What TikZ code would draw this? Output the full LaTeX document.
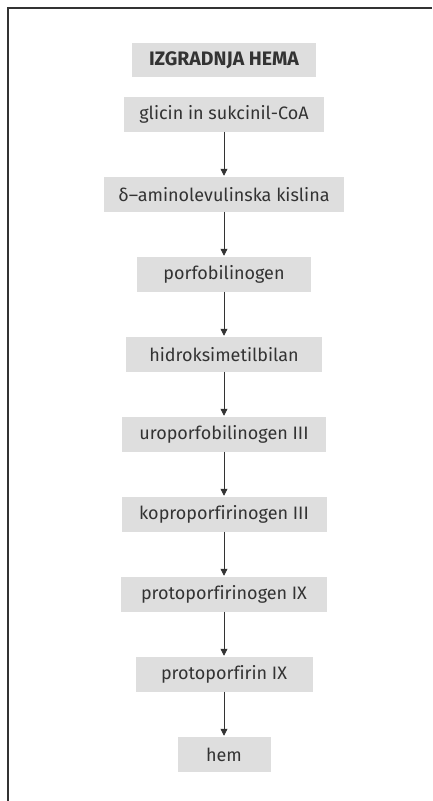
\documentclass[tikz,border=0pt]{standalone}
\usepackage{fontspec}
\setmainfont[Ligatures=CommonOff]{Fira Sans}
\usetikzlibrary{positioning}
\usetikzlibrary{arrows.meta}
\definecolor{boxgray}{HTML}{DEDEDE}
\definecolor{inkgray}{HTML}{333333}

\begin{document}
\begin{tikzpicture}[x=1pt,y=1pt]
\tikzset{
step box/.style = {rectangle,fill=boxgray,
                   text=inkgray,
                   font=\fontsize{18}{20}\selectfont,
                   minimum height=34.5pt,
                   inner xsep=10pt,
                   outer sep=0pt},
title box/.style = {step box,
                    font=\fontsize{19.5}{20}\selectfont\bfseries},
flow/.style = {draw=inkgray,line width=0.8pt,
               -{Triangle[length=7pt,width=7pt]},
               shorten >=1.5pt},
node distance=45.5pt
}

\useasboundingbox (0,0) rectangle (432,-801);
\draw[inkgray,line width=1.2pt] (8,-801) -- (8,-8) -- (432,-8);

\node[title box, minimum width=184pt] at (224,-60) (title) {IZGRADNJA HEMA};
\node[step box, minimum width=200pt, below=20pt of title] (glicin) {glicin in sukcinil-CoA};
\node[step box, minimum width=240pt, below=of glicin] (ala) {δ–aminolevulinska kislina};
\node[step box, minimum width=174pt, below=of ala]    (pbg)   {porfobilinogen};
\node[step box, minimum width=196pt, below=of pbg]    (hmb)   {hidroksimetilbilan};
\node[step box, minimum width=204pt, below=of hmb]    (uro)   {uroporfobilinogen III};
\node[step box, minimum width=205pt, below=of uro]    (kopro) {koproporfirinogen III};
\node[step box, minimum width=206pt, below=of kopro]  (protogen) {protoporfirinogen IX};
\node[step box, minimum width=177pt, below=of protogen] (proto) {protoporfirin IX};
\node[step box, minimum width=93pt,  below=of proto]  (hem)   {hem};

\draw[flow] (glicin) -- (ala);
\draw[flow] (ala) -- (pbg);
\draw[flow] (pbg) -- (hmb);
\draw[flow] (hmb) -- (uro);
\draw[flow] (uro) -- (kopro);
\draw[flow] (kopro) -- (protogen);
\draw[flow] (protogen) -- (proto);
\draw[flow] (proto) -- (hem);
\end{tikzpicture}
\end{document}
